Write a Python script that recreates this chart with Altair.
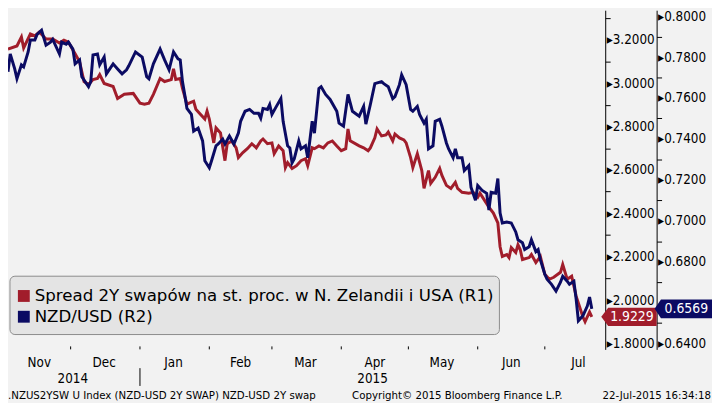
import altair as alt
import pandas as pd

START = "2014-11-03"

# Spread 2Y swap NZ-US (R1), days since START
red_days = [0, 4, 6, 7, 10, 12, 14, 17, 20, 23, 25, 27, 30, 32, 34, 36, 38, 40, 41, 43,
            47, 49, 52, 56, 59, 61, 63, 65, 68, 70, 73, 74, 75, 77, 78, 80, 81, 83, 84, 86,
            88, 89, 90, 92, 93, 95, 97, 98, 100, 102, 103, 105, 107, 109, 111, 113, 114, 116, 118, 119,
            121, 123, 124, 125, 127, 129, 131, 133, 134, 136, 137, 139, 141, 143, 145, 147, 149, 151, 152, 153,
            157, 159, 161, 162, 164, 165, 167, 169, 170, 172, 173, 175, 177, 178, 180, 181, 182, 183, 185, 186,
            188, 189, 191, 193, 194, 196, 198, 200, 201, 203, 206, 208, 210, 211, 213, 215, 217, 219, 220, 221,
            223, 224, 225, 227, 228, 229, 230, 233, 234, 236, 238, 240, 242, 244, 247, 248, 250, 252, 254, 257,
            258, 260, 261]
red_vals = [3.158, 3.172, 3.213, 3.163, 3.227, 3.218, 3.236, 3.204, 3.204, 3.186, 3.199, 3.190, 3.136, 3.099, 3.008, 2.994, 3.017, 3.022, 3.040, 2.999,
            2.985, 2.930, 2.949, 2.953, 2.908, 2.903, 2.908, 2.949, 3.022, 3.008, 3.017, 3.067, 3.017, 3.022, 2.976, 2.903, 2.908, 2.917, 2.880, 2.857,
            2.835, 2.871, 2.835, 2.725, 2.794, 2.771, 2.643, 2.721, 2.734, 2.702, 2.657, 2.680, 2.698, 2.721, 2.702, 2.734, 2.743, 2.721, 2.725, 2.675,
            2.711, 2.689, 2.611, 2.634, 2.607, 2.620, 2.643, 2.652, 2.620, 2.702, 2.698, 2.711, 2.702, 2.725, 2.734, 2.711, 2.689, 2.698, 2.789, 2.734,
            2.711, 2.702, 2.689, 2.702, 2.748, 2.789, 2.757, 2.762, 2.775, 2.734, 2.766, 2.748, 2.739, 2.725, 2.657, 2.611, 2.643, 2.675, 2.597, 2.515,
            2.597, 2.538, 2.566, 2.607, 2.575, 2.529, 2.515, 2.543, 2.515, 2.497, 2.493, 2.497, 2.474, 2.493, 2.461, 2.429, 2.401, 2.356, 2.246, 2.201,
            2.210, 2.196, 2.242, 2.219, 2.255, 2.233, 2.187, 2.196, 2.210, 2.173, 2.201, 2.119, 2.096, 2.105, 2.128, 2.164, 2.096, 2.110, 2.018, 1.923,
            1.900, 1.945, 1.9229]

# NZD/USD (R2), days since START
navy_days = [0, 1, 3, 4, 6, 7, 9, 10, 12, 13, 15, 17, 19, 20, 23, 24, 26, 27, 29, 30,
             32, 33, 36, 37, 38, 40, 41, 43, 44, 47, 49, 51, 53, 54, 57, 60, 62, 63, 65, 68,
             70, 72, 74, 76, 77, 78, 79, 80, 82, 83, 85, 87, 88, 90, 91, 93, 94, 96, 97, 99,
             101, 103, 104, 106, 108, 110, 112, 113, 114, 116, 117, 118, 120, 122, 123, 125, 126, 127, 128, 130,
             131, 133, 134, 136, 137, 139, 140, 142, 144, 147, 148, 150, 152, 154, 157, 159, 160, 162, 164, 167,
             168, 170, 172, 173, 175, 176, 178, 180, 181, 183, 184, 186, 187, 188, 190, 191, 193, 194, 196, 197,
             199, 200, 201, 203, 204, 206, 207, 209, 210, 212, 214, 215, 216, 218, 219, 220, 221, 223, 225, 227,
             228, 230, 231, 233, 234, 236, 237, 238, 240, 241, 243, 245, 247, 248, 250, 251, 253, 254, 255, 257,
             259, 260, 261]
navy_vals = [0.7728, 0.7815, 0.7742, 0.7694, 0.7762, 0.7752, 0.7825, 0.7883, 0.7883, 0.7911, 0.7931, 0.7858, 0.7873, 0.7887, 0.7815, 0.7873, 0.7863, 0.7873, 0.7839, 0.7767,
             0.7786, 0.7704, 0.7655, 0.7680, 0.7810, 0.7815, 0.7762, 0.7800, 0.7718, 0.7767, 0.7742, 0.7718, 0.7738, 0.7757, 0.7825, 0.7800, 0.7704, 0.7694, 0.7767, 0.7839,
             0.7786, 0.7738, 0.7825, 0.7791, 0.7786, 0.7680, 0.7617, 0.7549, 0.7520, 0.7438, 0.7453, 0.7390, 0.7293, 0.7259, 0.7293, 0.7366, 0.7375, 0.7399, 0.7375, 0.7414,
             0.7375, 0.7428, 0.7486, 0.7535, 0.7544, 0.7525, 0.7525, 0.7501, 0.7549, 0.7544, 0.7568, 0.7520, 0.7559, 0.7597, 0.7486, 0.7366, 0.7356, 0.7283, 0.7303, 0.7390,
             0.7351, 0.7366, 0.7308, 0.7486, 0.7428, 0.7646, 0.7655, 0.7617, 0.7593, 0.7535, 0.7477, 0.7462, 0.7617, 0.7535, 0.7511, 0.7559, 0.7472, 0.7568, 0.7670, 0.7680,
             0.7670, 0.7655, 0.7597, 0.7607, 0.7665, 0.7713, 0.7665, 0.7544, 0.7535, 0.7559, 0.7520, 0.7477, 0.7496, 0.7351, 0.7366, 0.7486, 0.7496, 0.7462, 0.7380, 0.7351,
             0.7308, 0.7351, 0.7308, 0.7308, 0.7245, 0.7269, 0.7163, 0.7100, 0.7172, 0.7148, 0.7134, 0.7052, 0.7139, 0.7134, 0.7206, 0.7037, 0.6989, 0.6994, 0.6989, 0.6945,
             0.6907, 0.6892, 0.6859, 0.6873, 0.6907, 0.6849, 0.6859, 0.6810, 0.6738, 0.6714, 0.6689, 0.6656, 0.6699, 0.6728, 0.6704, 0.6689, 0.6704, 0.6617, 0.6511, 0.6535,
             0.6583, 0.6627, 0.6569]

series_names = ["Spread 2Y swapów na st. proc. w N. Zelandii i USA (R1)", "NZD/USD (R2)"]
series_colors = ["#a11d2b", "#0b0b63"]

months = ["Nov", "Dec", "Jan", "Feb", "Mar", "Apr", "May", "Jun", "Jul"]
month_label_dates = ["2014-11-17", "2014-12-16", "2015-01-16", "2015-02-15", "2015-03-16",
                     "2015-04-16", "2015-05-16", "2015-06-16", "2015-07-16"]
month_starts = ["2014-12-01", "2015-01-01", "2015-02-01", "2015-03-01", "2015-04-01",
                "2015-05-01", "2015-06-01", "2015-07-01"]
years = ["2014", "2015"]
year_label_dates = ["2014-12-02", "2015-04-15"]
year_breaks = ["2015-01-01"]
x_range = ["2014-11-03", "2015-07-28"]

r1_ticks = [1.8, 1.9, 2.0, 2.1, 2.2, 2.3, 2.4, 2.5, 2.6, 2.7, 2.8, 2.9, 3.0, 3.1, 3.2, 3.3]
r2_ticks = [0.64, 0.65, 0.66, 0.67, 0.68, 0.69, 0.70, 0.71, 0.72, 0.73, 0.74, 0.75,
            0.76, 0.77, 0.78, 0.79, 0.80]
r1_domain = [1.7726, 3.3368]
r2_domain = [0.6371, 0.8029]

footer_left = ".NZUS2YSW U Index (NZD-USD 2Y SWAP) NZD-USD 2Y swap"
footer_mid = "Copyright\u00a9 2015 Bloomberg Finance L.P."
footer_right = "22-Jul-2015 16:34:18"

FONT = "DejaVu Sans Condensed, Liberation Sans, sans-serif"
LEGEND_FONT = "DejaVu Sans, sans-serif"
BG = "#f2f2f2"
W, H = 604, 343


def dt(s):
    y, m, d = map(int, s.split("-"))
    return alt.DateTime(year=y, month=m, date=d)


start = pd.Timestamp(START)
red_df = pd.DataFrame({"date": start + pd.to_timedelta(red_days, unit="D"), "v": red_vals})
navy_df = pd.DataFrame({"date": start + pd.to_timedelta(navy_days, unit="D"), "v": navy_vals})

xs = alt.Scale(domain=[dt(x_range[0]), dt(x_range[1])])
ys1 = alt.Scale(domain=r1_domain, nice=False, zero=False)
ys2 = alt.Scale(domain=r2_domain, nice=False, zero=False)

x_axis = alt.Axis(domain=True, domainColor="black", domainWidth=1, labels=False,
                  ticks=False, grid=False, title=None)

r1_major = "round(datum.value*10) % 2 == 0"
r2_major = "round(datum.value*100) % 2 == 0"
# labels hidden behind the last-value tag on R2
r2_show = f"{r2_major} && abs(datum.value - {navy_vals[-1]}) > 0.005"

r1_axis = alt.Axis(orient="right", values=r1_ticks, grid=False, title=None,
                   domainColor="black", tickColor="black", tickSize=5,
                   tickOpacity={"condition": {"test": r1_major, "value": 0}, "value": 1},
                   labelExpr=f"{r1_major} ? '\u25b8' + format(datum.value, '.4f') : ''",
                   labelFont=FONT, labelFontSize=13.5, labelColor="black", labelPadding=-4,
                   labelOverlap=False, labelBaseline="middle")
r2_axis = alt.Axis(orient="right", offset=52, values=r2_ticks, grid=False, title=None,
                   domainColor="black", tickColor="black", tickSize=5,
                   tickOpacity={"condition": {"test": r2_major, "value": 0}, "value": 1},
                   labelExpr=f"{r2_show} ? '\u25b8' + format(datum.value, '.4f') : ''",
                   labelFont=FONT, labelFontSize=13.5, labelColor="black", labelPadding=-4,
                   labelOverlap=False, labelBaseline="middle")

red_line = alt.Chart(red_df).mark_line(color=series_colors[0], strokeWidth=3).encode(
    x=alt.X("date:T", scale=xs, axis=x_axis),
    y=alt.Y("v:Q", scale=ys1, axis=r1_axis),
)
navy_line = alt.Chart(navy_df).mark_line(color=series_colors[1], strokeWidth=3).encode(
    x=alt.X("date:T", scale=xs, axis=x_axis),
    y=alt.Y("v:Q", scale=ys2, axis=r2_axis),
)

one = pd.DataFrame({"a": [0]})

# month ticks and labels
ms_df = pd.DataFrame({"date": pd.to_datetime(month_starts)})
month_ticks = alt.Chart(ms_df).mark_rule(color="black", strokeWidth=1).encode(
    x=alt.X("date:T", scale=xs, axis=None), y=alt.value(H - 3), y2=alt.value(H))
ml_df = pd.DataFrame({"date": pd.to_datetime(month_label_dates), "m": months})
month_labels = alt.Chart(ml_df).mark_text(font=FONT, fontSize=13.5, color="black", baseline="middle").encode(
    x=alt.X("date:T", scale=xs, axis=None), y=alt.value(H + 14), text="m:N")
yl_df = pd.DataFrame({"date": pd.to_datetime(year_label_dates), "yr": years})
year_labels = alt.Chart(yl_df).mark_text(font=FONT, fontSize=13.5, color="black", baseline="middle").encode(
    x=alt.X("date:T", scale=xs, axis=None), y=alt.value(H + 30), text="yr:N")
yb_df = pd.DataFrame({"date": pd.to_datetime(year_breaks)})
year_sep = alt.Chart(yb_df).mark_rule(color="black", strokeWidth=1).encode(
    x=alt.X("date:T", scale=xs, axis=None), y=alt.value(H + 19), y2=alt.value(H + 37))

# footer
foot = [
    alt.Chart(one).mark_text(font=FONT, fontSize=11.5, color="black", align="left", baseline="middle").encode(
        x=alt.value(0), y=alt.value(H + 47), text=alt.value(footer_left)),
    alt.Chart(one).mark_text(font=FONT, fontSize=11.5, color="black", align="left", baseline="middle").encode(
        x=alt.value(348), y=alt.value(H + 47), text=alt.value(footer_mid)),
    alt.Chart(one).mark_text(font=FONT, fontSize=11.5, color="black", align="right", baseline="middle").encode(
        x=alt.value(711), y=alt.value(H + 47), text=alt.value(footer_right)),
]

# legend
legend = [
    alt.Chart(one).mark_rect(fill="#e4e4e4", stroke="#8c8c8c", strokeWidth=1, cornerRadius=5).encode(
        x=alt.value(2), x2=alt.value(497), y=alt.value(269), y2=alt.value(328)),
    alt.Chart(one).mark_rect(fill=series_colors[0]).encode(
        x=alt.value(10), x2=alt.value(22), y=alt.value(283), y2=alt.value(295)),
    alt.Chart(one).mark_rect(fill=series_colors[1]).encode(
        x=alt.value(10), x2=alt.value(22), y=alt.value(304), y2=alt.value(316)),
    alt.Chart(one).mark_text(font=LEGEND_FONT, fontSize=16.8, color="black", align="left", baseline="middle").encode(
        x=alt.value(27), y=alt.value(289), text=alt.value(series_names[0])),
    alt.Chart(one).mark_text(font=LEGEND_FONT, fontSize=16.8, color="black", align="left", baseline="middle").encode(
        x=alt.value(27), y=alt.value(310), text=alt.value(series_names[1])),
]

# last value tags
red_last = pd.DataFrame({"v": [red_vals[-1]]})
navy_last = pd.DataFrame({"v": [navy_vals[-1]]})
tag_path1 = "M -1 0 L -0.75 -0.33 L 1 -0.33 L 1 0.33 L -0.75 0.33 Z"
tag_path2 = "M -1 0 L -0.78 -0.33 L 1 -0.33 L 1 0.33 L -0.78 0.33 Z"
tags = [
    alt.Chart(red_last).mark_point(shape=tag_path1, filled=True, fill=series_colors[0], opacity=1,
                                   size=3136, strokeWidth=0).encode(
        x=alt.value(628), y=alt.Y("v:Q", scale=ys1, axis=None)),
    alt.Chart(red_last).mark_text(font=FONT, fontSize=14, color="white", baseline="middle").encode(
        x=alt.value(631), y=alt.Y("v:Q", scale=ys1, axis=None), text=alt.Text("v:Q", format=".4f")),
    alt.Chart(navy_last).mark_point(shape=tag_path2, filled=True, fill=series_colors[1], opacity=1,
                                    size=3364, strokeWidth=0).encode(
        x=alt.value(683), y=alt.Y("v:Q", scale=ys2, axis=None)),
    alt.Chart(navy_last).mark_text(font=FONT, fontSize=14, color="white", baseline="middle").encode(
        x=alt.value(686), y=alt.Y("v:Q", scale=ys2, axis=None), text=alt.Text("v:Q", format=".4f")),
]

chart = alt.layer(
    red_line, navy_line, month_ticks, month_labels, year_labels, year_sep,
    *foot, *legend, *tags
).resolve_scale(y="independent").properties(
    width=W, height=H,
    autosize=alt.AutoSizeParams(type="none"),
    padding={"left": 0, "top": 0, "right": 108, "bottom": 52},
    background=BG,
).configure_view(stroke=None, fill=BG)

chart.save("out.html", embed_options={"renderer": "svg", "actions": False})
